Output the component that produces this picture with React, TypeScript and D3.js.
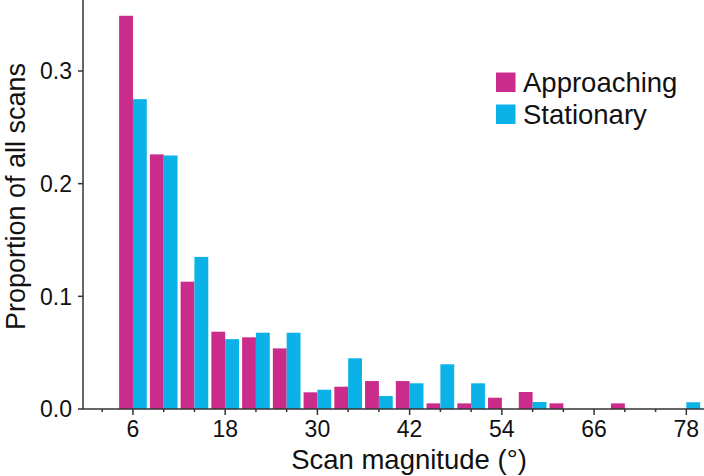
import React from 'react';
import * as d3 from 'd3';

// bin centres (degrees), 4° wide bins
const bins = [2, 6, 10, 14, 18, 22, 26, 30, 34, 38, 42, 46, 50, 54, 58, 62, 66, 70, 74, 78];
const approaching = [0, 0.349, 0.226, 0.113, 0.0686, 0.0636, 0.0538, 0.0148, 0.0198, 0.0248, 0.0248, 0.005, 0.005, 0.01, 0.0151, 0.005, 0, 0.005, 0, 0];
const stationary = [0, 0.275, 0.225, 0.135, 0.062, 0.0677, 0.0677, 0.0171, 0.045, 0.0115, 0.0228, 0.0397, 0.0228, 0, 0.0062, 0, 0, 0, 0, 0.006];
const xMajor = [6, 18, 30, 42, 54, 66, 78];
const yTicks = [0, 0.1, 0.2, 0.3];

const series = [
  { name: 'Approaching', values: approaching, color: '#CB2C8C' },
  { name: 'Stationary', values: stationary, color: '#0AB2E8' },
];

const W = 704;
const H = 476;
const font = '"Liberation Sans", Arial, sans-serif';
const axisColor = '#333';

export default function App() {
  const left = 83;
  const bottom = 409;
  const x = d3.scaleLinear().domain([-0.5, 80.3]).range([left, W]);
  const y = d3.scaleLinear().domain([0, 0.363]).range([bottom, 0]);
  const barW = 1.8;

  return (
    <svg width={W} height={H} style={{ position: 'absolute', left: 0, top: 0, background: '#fff' }} fontFamily={font}>
      {series.map((s, si) =>
        s.values.map((v, i) => {
          if (!v) return null;
          const x0 = si === 0 ? x(bins[i] - barW) : x(bins[i]);
          const x1 = si === 0 ? x(bins[i]) : x(bins[i] + barW);
          return (
            <rect key={s.name + i} x={x0} y={y(v)} width={x1 - x0} height={y(0) - y(v)} fill={s.color} />
          );
        })
      )}

      {/* axes */}
      <line x1={left} x2={left} y1={0} y2={bottom} stroke={axisColor} strokeWidth={1.5} />
      <line x1={left} x2={W} y1={bottom} y2={bottom} stroke={axisColor} strokeWidth={1.5} />

      {bins.map((b) => {
        const major = xMajor.includes(b);
        return (
          <line key={'t' + b} x1={x(b)} x2={x(b)} y1={bottom} y2={bottom + (major ? 6 : 3)} stroke={axisColor} strokeWidth={1.5} />
        );
      })}
      {xMajor.map((t) => (
        <text key={'xl' + t} x={x(t)} y={437} textAnchor="middle" fontSize={23} fill="#111">
          {t}
        </text>
      ))}

      {yTicks.map((t) => (
        <g key={'y' + t}>
          <line x1={left - 5} x2={left} y1={y(t)} y2={y(t)} stroke={axisColor} strokeWidth={1.5} />
          <text x={72} y={y(t)} dy="0.36em" textAnchor="end" fontSize={23} fill="#111">
            {d3.format('.1f')(t)}
          </text>
        </g>
      ))}

      <text x={409} y={469} textAnchor="middle" fontSize={27.5} fill="#111">
        Scan magnitude (°)
      </text>
      <text transform={`translate(25,${196.5}) rotate(-90)`} textAnchor="middle" fontSize={27} fill="#111">
        Proportion of all scans
      </text>

      {/* legend */}
      {series.map((s, i) => (
        <g key={'lg' + s.name} transform={`translate(496,${72.5 + i * 32})`}>
          <rect width={19.5} height={19.5} fill={s.color} />
          <text x={27} y={19.5} fontSize={27.5} fill="#111">
            {s.name}
          </text>
        </g>
      ))}
    </svg>
  );
}
